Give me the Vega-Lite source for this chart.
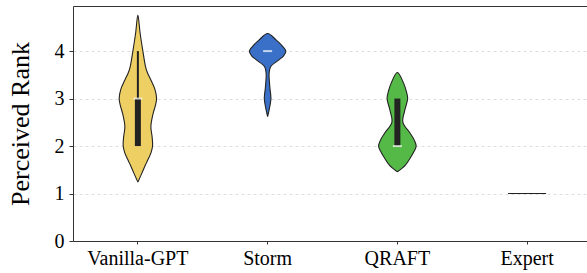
{
  "$schema": "https://vega.github.io/schema/vega-lite/v6.json",
  "width": 514,
  "height": 235,
  "autosize": {"type": "none"},
  "padding": {"left": 73, "top": 6, "right": 0, "bottom": 32},
  "config": {
    "view": {"stroke": null},
    "font": "Liberation Serif",
    "axis": {"labelFont": "Liberation Serif", "titleFont": "Liberation Serif", "labelColor": "#000", "titleColor": "#000", "domainColor": "#333", "tickColor": "#333"}
  },
  "datasets": {
    "violin": [
      {"cat": "Vanilla-GPT", "v": 1.24, "d": 0, "i": 0},
      {"cat": "Vanilla-GPT", "v": 1.43, "d": -0.2, "i": 1},
      {"cat": "Vanilla-GPT", "v": 1.6, "d": -0.375, "i": 2},
      {"cat": "Vanilla-GPT", "v": 1.71, "d": -0.5, "i": 3},
      {"cat": "Vanilla-GPT", "v": 1.85, "d": -0.65, "i": 4},
      {"cat": "Vanilla-GPT", "v": 2.0, "d": -0.735, "i": 5},
      {"cat": "Vanilla-GPT", "v": 2.2, "d": -0.71, "i": 6},
      {"cat": "Vanilla-GPT", "v": 2.41, "d": -0.65, "i": 7},
      {"cat": "Vanilla-GPT", "v": 2.69, "d": -0.765, "i": 8},
      {"cat": "Vanilla-GPT", "v": 2.85, "d": -0.875, "i": 9},
      {"cat": "Vanilla-GPT", "v": 3.0, "d": -0.935, "i": 10},
      {"cat": "Vanilla-GPT", "v": 3.2, "d": -0.85, "i": 11},
      {"cat": "Vanilla-GPT", "v": 3.39, "d": -0.65, "i": 12},
      {"cat": "Vanilla-GPT", "v": 3.55, "d": -0.475, "i": 13},
      {"cat": "Vanilla-GPT", "v": 3.67, "d": -0.385, "i": 14},
      {"cat": "Vanilla-GPT", "v": 4.0, "d": -0.25, "i": 15},
      {"cat": "Vanilla-GPT", "v": 4.37, "d": -0.115, "i": 16},
      {"cat": "Vanilla-GPT", "v": 4.76, "d": 0, "i": 17},
      {"cat": "Vanilla-GPT", "v": 4.37, "d": 0.115, "i": 18},
      {"cat": "Vanilla-GPT", "v": 4.0, "d": 0.25, "i": 19},
      {"cat": "Vanilla-GPT", "v": 3.67, "d": 0.385, "i": 20},
      {"cat": "Vanilla-GPT", "v": 3.55, "d": 0.475, "i": 21},
      {"cat": "Vanilla-GPT", "v": 3.39, "d": 0.65, "i": 22},
      {"cat": "Vanilla-GPT", "v": 3.2, "d": 0.85, "i": 23},
      {"cat": "Vanilla-GPT", "v": 3.0, "d": 0.935, "i": 24},
      {"cat": "Vanilla-GPT", "v": 2.85, "d": 0.875, "i": 25},
      {"cat": "Vanilla-GPT", "v": 2.69, "d": 0.765, "i": 26},
      {"cat": "Vanilla-GPT", "v": 2.41, "d": 0.65, "i": 27},
      {"cat": "Vanilla-GPT", "v": 2.2, "d": 0.71, "i": 28},
      {"cat": "Vanilla-GPT", "v": 2.0, "d": 0.735, "i": 29},
      {"cat": "Vanilla-GPT", "v": 1.85, "d": 0.65, "i": 30},
      {"cat": "Vanilla-GPT", "v": 1.71, "d": 0.5, "i": 31},
      {"cat": "Vanilla-GPT", "v": 1.6, "d": 0.375, "i": 32},
      {"cat": "Vanilla-GPT", "v": 1.43, "d": 0.2, "i": 33},
      {"cat": "Vanilla-GPT", "v": 1.24, "d": 0, "i": 34},

      {"cat": "Storm", "v": 2.62, "d": 0, "i": 0},
      {"cat": "Storm", "v": 2.76, "d": -0.075, "i": 1},
      {"cat": "Storm", "v": 3.0, "d": -0.165, "i": 2},
      {"cat": "Storm", "v": 3.2, "d": -0.12, "i": 3},
      {"cat": "Storm", "v": 3.35, "d": -0.09, "i": 4},
      {"cat": "Storm", "v": 3.53, "d": -0.075, "i": 5},
      {"cat": "Storm", "v": 3.67, "d": -0.15, "i": 6},
      {"cat": "Storm", "v": 3.81, "d": -0.55, "i": 7},
      {"cat": "Storm", "v": 3.9, "d": -0.8, "i": 8},
      {"cat": "Storm", "v": 4.0, "d": -0.91, "i": 9},
      {"cat": "Storm", "v": 4.1, "d": -0.75, "i": 10},
      {"cat": "Storm", "v": 4.23, "d": -0.435, "i": 11},
      {"cat": "Storm", "v": 4.37, "d": 0, "i": 12},
      {"cat": "Storm", "v": 4.23, "d": 0.435, "i": 13},
      {"cat": "Storm", "v": 4.1, "d": 0.75, "i": 14},
      {"cat": "Storm", "v": 4.0, "d": 0.91, "i": 15},
      {"cat": "Storm", "v": 3.9, "d": 0.8, "i": 16},
      {"cat": "Storm", "v": 3.81, "d": 0.55, "i": 17},
      {"cat": "Storm", "v": 3.67, "d": 0.15, "i": 18},
      {"cat": "Storm", "v": 3.53, "d": 0.075, "i": 19},
      {"cat": "Storm", "v": 3.35, "d": 0.09, "i": 20},
      {"cat": "Storm", "v": 3.2, "d": 0.12, "i": 21},
      {"cat": "Storm", "v": 3.0, "d": 0.165, "i": 22},
      {"cat": "Storm", "v": 2.76, "d": 0.075, "i": 23},
      {"cat": "Storm", "v": 2.62, "d": 0, "i": 24},

      {"cat": "QRAFT", "v": 1.46, "d": 0, "i": 0},
      {"cat": "QRAFT", "v": 1.6, "d": -0.4, "i": 1},
      {"cat": "QRAFT", "v": 1.78, "d": -0.69, "i": 2},
      {"cat": "QRAFT", "v": 1.9, "d": -0.85, "i": 3},
      {"cat": "QRAFT", "v": 2.0, "d": -0.94, "i": 4},
      {"cat": "QRAFT", "v": 2.12, "d": -0.85, "i": 5},
      {"cat": "QRAFT", "v": 2.27, "d": -0.64, "i": 6},
      {"cat": "QRAFT", "v": 2.5, "d": -0.275, "i": 7},
      {"cat": "QRAFT", "v": 2.76, "d": -0.375, "i": 8},
      {"cat": "QRAFT", "v": 3.0, "d": -0.515, "i": 9},
      {"cat": "QRAFT", "v": 3.15, "d": -0.45, "i": 10},
      {"cat": "QRAFT", "v": 3.32, "d": -0.315, "i": 11},
      {"cat": "QRAFT", "v": 3.55, "d": 0, "i": 12},
      {"cat": "QRAFT", "v": 3.32, "d": 0.315, "i": 13},
      {"cat": "QRAFT", "v": 3.15, "d": 0.45, "i": 14},
      {"cat": "QRAFT", "v": 3.0, "d": 0.515, "i": 15},
      {"cat": "QRAFT", "v": 2.76, "d": 0.375, "i": 16},
      {"cat": "QRAFT", "v": 2.5, "d": 0.275, "i": 17},
      {"cat": "QRAFT", "v": 2.27, "d": 0.64, "i": 18},
      {"cat": "QRAFT", "v": 2.12, "d": 0.85, "i": 19},
      {"cat": "QRAFT", "v": 2.0, "d": 0.94, "i": 20},
      {"cat": "QRAFT", "v": 1.9, "d": 0.85, "i": 21},
      {"cat": "QRAFT", "v": 1.78, "d": 0.69, "i": 22},
      {"cat": "QRAFT", "v": 1.6, "d": 0.4, "i": 23},
      {"cat": "QRAFT", "v": 1.46, "d": 0, "i": 24},

      {"cat": "Expert", "v": 1.0, "d": -0.95, "i": 0},
      {"cat": "Expert", "v": 1.0, "d": 0.95, "i": 1}
    ],
    "box": [
      {"cat": "Vanilla-GPT", "q1": 2, "q3": 3, "wlo": 3, "whi": 4, "med": 3},
      {"cat": "Storm", "q1": null, "q3": null, "wlo": null, "whi": null, "med": 4},
      {"cat": "QRAFT", "q1": 2, "q3": 3, "wlo": null, "whi": null, "med": 2}
    ]
  },
  "layer": [
    {
      "data": {"name": "violin"},
      "mark": {"type": "line", "stroke": "#222", "strokeWidth": 1.1, "interpolate": "catmull-rom"},
      "encoding": {
        "x": {
          "field": "cat", "type": "nominal",
          "scale": {"type": "band", "domain": ["Vanilla-GPT", "Storm", "QRAFT", "Expert"], "range": [0, 519], "paddingInner": 0, "paddingOuter": 0},
          "axis": {"title": null, "labelAngle": 0, "labelFontSize": 20, "tickSize": 3, "labelPadding": 4, "grid": false, "domainWidth": 1}
        },
        "xOffset": {"field": "d", "type": "quantitative", "scale": {"domain": [-3.24375, 3.24375], "range": [0, 129.75]}},
        "y": {
          "field": "v", "type": "quantitative",
          "scale": {"domain": [0, 4.95], "nice": false, "zero": true},
          "axis": {"title": "Perceived Rank", "titleFontSize": 26, "titleFontWeight": "normal", "titlePadding": 21, "labelFontSize": 20, "values": [0, 1, 2, 3, 4], "grid": true, "gridDash": [3, 3], "gridColor": "#dddddd", "tickSize": 4, "labelPadding": 5}
        },
        "fill": {
          "field": "cat", "type": "nominal",
          "scale": {"domain": ["Vanilla-GPT", "Storm", "QRAFT", "Expert"], "range": ["#EECF63", "#3B70C8", "#55B947", "#777777"]},
          "legend": null
        },
        "order": {"field": "i", "type": "quantitative"}
      }
    },
    {
      "data": {"name": "box"},
      "mark": {"type": "rule", "color": "#222", "strokeWidth": 2},
      "encoding": {
        "x": {"field": "cat", "type": "nominal", "axis": null},
        "y": {"field": "wlo", "type": "quantitative", "axis": null},
        "y2": {"field": "whi"}
      }
    },
    {
      "data": {"name": "box"},
      "mark": {"type": "bar", "color": "#222", "size": 6},
      "encoding": {
        "x": {"field": "cat", "type": "nominal", "axis": {"orient": "top", "labels": false, "ticks": false, "title": null, "grid": false}},
        "y": {"field": "q1", "type": "quantitative", "axis": null},
        "y2": {"field": "q3"}
      }
    },
    {
      "data": {"name": "box"},
      "mark": {"type": "tick", "color": "#ffffff", "size": 9, "thickness": 2},
      "encoding": {
        "x": {"field": "cat", "type": "nominal", "axis": null},
        "y": {"field": "med", "type": "quantitative", "axis": null}
      }
    }
  ],
  "resolve": {"axis": {"x": "independent", "y": "independent"}}
}
